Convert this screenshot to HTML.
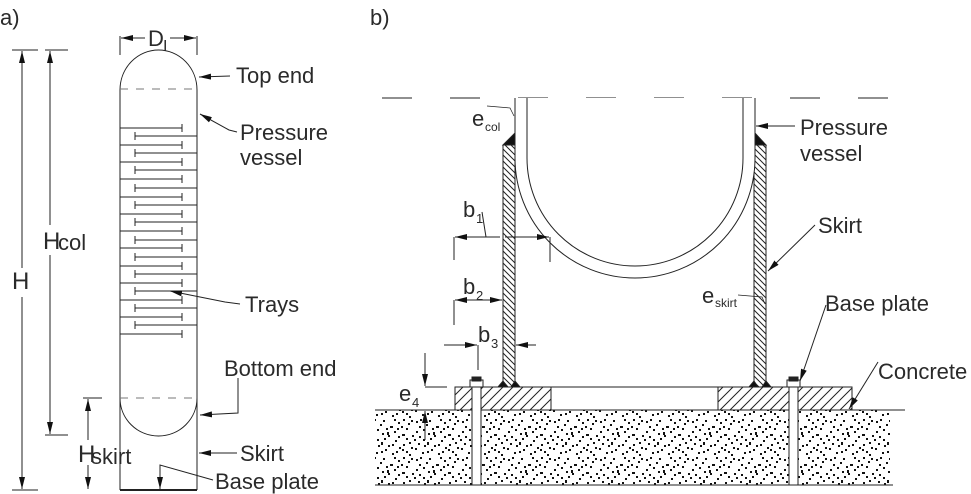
<!DOCTYPE html>
<html><head><meta charset="utf-8"><style>
html,body{margin:0;padding:0;background:#fff;}
svg{display:block;}
text{font-family:"Liberation Sans",sans-serif;fill:#2a2a2a;}
</style></head><body>
<svg width="971" height="494" viewBox="0 0 971 494" xmlns="http://www.w3.org/2000/svg">
<defs>
<pattern id="hs" width="6" height="6" patternUnits="userSpaceOnUse">
<path d="M-1,-1 L7,7 M-1,5 L1,7 M5,-1 L7,1" stroke="#222" stroke-width="1"/>
</pattern>
<pattern id="hp" width="10" height="10" patternUnits="userSpaceOnUse">
<path d="M-1,11 L11,-1 M-1,1 L1,-1 M9,11 L11,9" stroke="#222" stroke-width="1"/>
</pattern>
<pattern id="dots" width="46" height="38" patternUnits="userSpaceOnUse">
<g fill="#111">
<rect x="2" y="3" width="2" height="2"/><rect x="9" y="11" width="2" height="2"/><rect x="15" y="2" width="2" height="2"/>
<rect x="22" y="8" width="3" height="2"/><rect x="30" y="4" width="2" height="2"/><rect x="38" y="10" width="2" height="2"/>
<rect x="43" y="2" width="2" height="2"/><rect x="5" y="18" width="2" height="2"/><rect x="13" y="24" width="2" height="3"/>
<rect x="20" y="17" width="2" height="2"/><rect x="27" y="22" width="2" height="2"/><rect x="34" y="16" width="3" height="2"/>
<rect x="41" y="24" width="2" height="2"/><rect x="1" y="30" width="2" height="2"/><rect x="8" y="34" width="2" height="2"/>
<rect x="17" y="31" width="2" height="2"/><rect x="24" y="35" width="2" height="2"/><rect x="31" y="29" width="2" height="2"/>
<rect x="38" y="33" width="2" height="2"/><rect x="44" y="17" width="2" height="2"/><rect x="18" y="10" width="2" height="2"/>
<rect x="35" y="26" width="2" height="2"/><rect x="26" y="13" width="2" height="2"/><rect x="10" y="27" width="2" height="2"/>
<rect x="5" y="8" width="2" height="2"/><rect x="12" y="6" width="2" height="2"/><rect x="19" y="14" width="2" height="3"/>
<rect x="33" y="8" width="2" height="2"/><rect x="40" y="5" width="2" height="2"/><rect x="2" y="13" width="2" height="2"/>
<rect x="9" y="21" width="2" height="2"/><rect x="16" y="20" width="2" height="2"/><rect x="24" y="26" width="2" height="2"/>
<rect x="30" y="18" width="2" height="2"/><rect x="38" y="20" width="2" height="2"/><rect x="43" y="29" width="2" height="2"/>
<rect x="4" y="25" width="2" height="2"/><rect x="13" y="33" width="2" height="2"/><rect x="20" y="27" width="2" height="2"/>
<rect x="28" y="33" width="2" height="2"/><rect x="34" y="31" width="2" height="2"/><rect x="41" y="36" width="2" height="2"/>
<rect x="6" y="1" width="2" height="2"/><rect x="26" y="1" width="2" height="2"/><rect x="35" y="1" width="2" height="2"/>
<rect x="29" y="10" width="2" height="2"/><rect x="14" y="15" width="2" height="2"/><rect x="0" y="21" width="2" height="2"/>
</g>
</pattern>
<marker id="ar" markerWidth="12" markerHeight="6" refX="12" refY="3" orient="auto" markerUnits="userSpaceOnUse">
<path d="M0,0 L12,3 L0,6 z" fill="#111"/>
</marker>
</defs>

<g stroke="#222" stroke-width="1" fill="none">
<!-- PANEL A -->
<path d="M120,90 L120,490 M197,90 L197,490"/>
<path d="M120,90 A38.5,40 0 0 1 197,90"/>
<path d="M120,398 A38.5,38 0 0 0 197,398"/>
<line x1="120" y1="89" x2="197" y2="89" stroke-dasharray="8,8" stroke="#777"/>
<line x1="120" y1="398" x2="197" y2="398" stroke-dasharray="8,8" stroke="#777"/>
<line x1="120" y1="490" x2="197" y2="490" stroke-width="2"/>
<g>
<path d="M120,128 H182 M182,124 V132 M120,145 H182 M182,141 V149 M120,162 H182 M182,158 V166 M120,179 H182 M182,175 V183 M120,197 H182 M182,193 V201 M120,214 H182 M182,210 V218 M120,231 H182 M182,227 V235 M120,248 H182 M182,244 V252 M120,266 H182 M182,262 V270 M120,283 H182 M182,279 V287 M120,300 H182 M182,296 V304 M120,317 H182 M182,313 V321 M120,334 H182 M182,330 V338"/>
<path d="M135,136 H197 M135,132 V140 M135,153 H197 M135,149 V157 M135,170 H197 M135,166 V174 M135,188 H197 M135,184 V192 M135,205 H197 M135,201 V209 M135,222 H197 M135,218 V226 M135,240 H197 M135,236 V244 M135,257 H197 M135,253 V261 M135,274 H197 M135,270 V278 M135,291 H197 M135,287 V295 M135,308 H197 M135,304 V312 M135,325 H197 M135,321 V329"/>
</g>
<path d="M120,36 V55 M197,36 V55"/>
<line x1="145" y1="38" x2="121" y2="38" marker-end="url(#ar)"/>
<line x1="170" y1="38" x2="196" y2="38" marker-end="url(#ar)"/>
<path d="M12,50 H38 M12,490 H38"/>
<line x1="22" y1="268" x2="22" y2="51" marker-end="url(#ar)"/>
<line x1="22" y1="297" x2="22" y2="489" marker-end="url(#ar)"/>
<path d="M45,50 H68 M45,435 H68"/>
<line x1="50" y1="225" x2="50" y2="51" marker-end="url(#ar)"/>
<line x1="50" y1="255" x2="50" y2="434" marker-end="url(#ar)"/>
<path d="M83,398 H102"/>
<line x1="88" y1="440" x2="88" y2="399" marker-end="url(#ar)"/>
<line x1="88" y1="465" x2="88" y2="489" marker-end="url(#ar)"/>
<line x1="230" y1="76" x2="199" y2="77" marker-end="url(#ar)"/>
<polyline points="237,132 229,130 200,114" marker-end="url(#ar)"/>
<polyline points="240,304 225,302 170,291" marker-end="url(#ar)"/>
<polyline points="238,378 238,413 200,415" marker-end="url(#ar)"/>
<line x1="237" y1="453" x2="199" y2="453" marker-end="url(#ar)"/>
<polyline points="213,480 160,465 160,489" marker-end="url(#ar)"/>

<!-- PANEL B -->
<line x1="382" y1="98" x2="890" y2="98" stroke-dasharray="30,38"/>
<rect x="375" y="410" width="515" height="75" fill="url(#dots)" stroke="none"/>
<line x1="375" y1="410" x2="905" y2="410"/>
<line x1="375" y1="485" x2="893" y2="485"/>
<rect x="455" y="387" width="96" height="23" fill="url(#hp)"/>
<rect x="718" y="387" width="134" height="23" fill="url(#hp)"/>
<line x1="551" y1="387" x2="718" y2="387"/>
<rect x="503" y="145" width="12" height="242" fill="url(#hs)"/>
<rect x="754" y="145" width="12" height="242" fill="url(#hs)"/>
<path d="M515,98 V158 A120,120 0 0 0 755,158 V98" fill="#fff"/>
<path d="M527,98 V158 A108,108 0 0 0 743,158 V98"/>
<path d="M503,145 L515,133 L515,145 z M766,145 L755,133 L755,145 z" fill="#111"/>
<path d="M498,387 L503,381 L508,387 z M511,387 L515,381 L520,387 z M749,387 L754,381 L758,387 z M762,387 L766,381 L771,387 z" fill="#111"/>
<rect x="472" y="386" width="9" height="99" fill="#fff"/>
<rect x="789" y="386" width="9" height="99" fill="#fff"/>
<rect x="470" y="380" width="13" height="7" fill="#fff"/>
<rect x="787" y="380" width="13" height="7" fill="#fff"/>
<rect x="472" y="377" width="9" height="4" fill="#222"/>
<rect x="789" y="377" width="9" height="4" fill="#222"/>
<path d="M454,237 V260 M550,237 V262"/>
<line x1="500" y1="237" x2="455" y2="237" marker-end="url(#ar)"/>
<line x1="505" y1="237" x2="549" y2="237" marker-end="url(#ar)"/>
<line x1="482" y1="212" x2="486" y2="237"/>
<path d="M454,300 V325"/>
<line x1="478" y1="300" x2="455" y2="300" marker-end="url(#ar)"/>
<line x1="478" y1="300" x2="502" y2="300" marker-end="url(#ar)"/>
<line x1="444" y1="345" x2="477" y2="345" marker-end="url(#ar)"/>
<line x1="478" y1="345" x2="478" y2="370"/>
<line x1="536" y1="345" x2="516" y2="345" marker-end="url(#ar)"/>
<line x1="425" y1="353" x2="425" y2="386" marker-end="url(#ar)"/>
<line x1="425" y1="387" x2="447" y2="387"/>
<line x1="425" y1="440" x2="425" y2="411" marker-end="url(#ar)"/>
<path d="M487,106 L510,108 L514,116" stroke-width="0.7"/>
<path d="M738,295 L762,297 L765,304" stroke-width="0.7"/>
<line x1="795" y1="126" x2="756" y2="126" marker-end="url(#ar)"/>
<line x1="815" y1="225" x2="768" y2="271" marker-end="url(#ar)"/>
<line x1="826" y1="305" x2="800" y2="381" marker-end="url(#ar)"/>
<line x1="878" y1="362" x2="849" y2="409" marker-end="url(#ar)"/>
</g>

<g font-size="22">
<text x="0" y="25">a)</text>
<text x="370" y="25">b)</text>
<text x="148" y="46">D</text><text x="163" y="51" font-size="16">I</text>
<text x="12" y="289" font-size="24">H</text>
<text x="43" y="249" font-size="24">H</text><text x="58" y="250">col</text>
<text x="78" y="462" font-size="24">H</text><text x="91" y="464">skirt</text>
<text x="236" y="83">Top end</text>
<text x="240" y="140">Pressure</text>
<text x="240" y="165">vessel</text>
<text x="245" y="312">Trays</text>
<text x="224" y="376">Bottom end</text>
<text x="240" y="461">Skirt</text>
<text x="215" y="489">Base plate</text>

<text x="472" y="126">e</text><text x="485" y="131" font-size="12">col</text>
<text x="800" y="135">Pressure</text>
<text x="800" y="161">vessel</text>
<text x="463" y="217">b</text><text x="476" y="223" font-size="13">1</text>
<text x="463" y="294">b</text><text x="476" y="300" font-size="13">2</text>
<text x="478" y="342">b</text><text x="491" y="348" font-size="13">3</text>
<text x="399" y="401">e</text><text x="412" y="407" font-size="13">4</text>
<text x="818" y="233">Skirt</text>
<text x="702" y="303">e</text><text x="715" y="307" font-size="12">skirt</text>
<text x="825" y="311">Base plate</text>
<text x="878" y="379">Concrete</text>
</g>
</svg>
</body></html>
